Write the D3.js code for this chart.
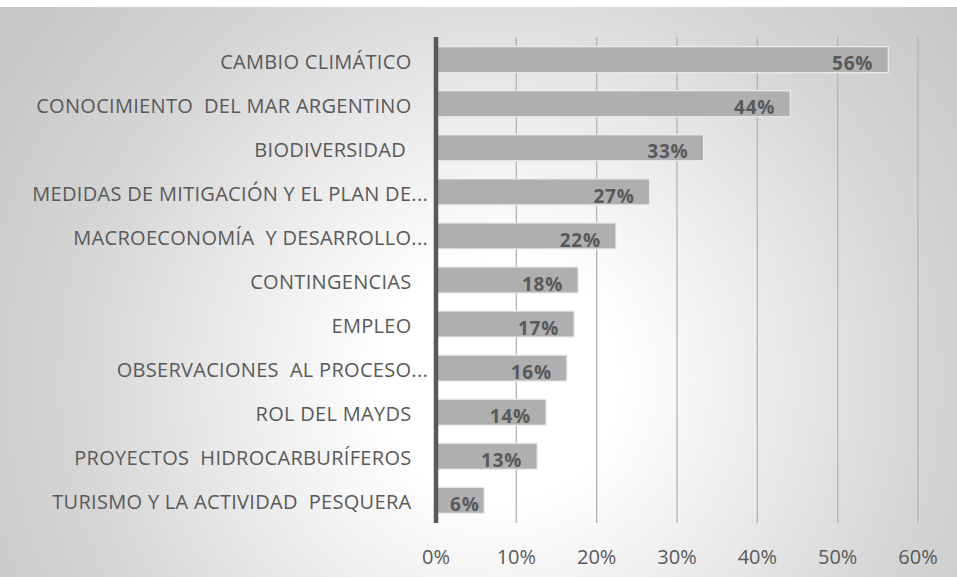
<!DOCTYPE html>
<html>
<head>
<meta charset="utf-8">
<script src="https://cdn.jsdelivr.net/npm/d3@7"></script>
<style>
  html, body { margin: 0; padding: 0; background: #ffffff; }
  svg { display: block; }
  text { white-space: pre; }
</style>
</head>
<body>
<div id="chart"></div>
<script>
// categories, top to bottom (trailing / double spaces are part of the original labels)
const categories = [
  'CAMBIO CLIMÁTICO   ',
  'CONOCIMIENTO  DEL MAR ARGENTINO   ',
  'BIODIVERSIDAD    ',
  'MEDIDAS DE MITIGACIÓN Y EL PLAN DE...',
  'MACROECONOMÍA  Y DESARROLLO...',
  'CONTINGENCIAS   ',
  'EMPLEO   ',
  'OBSERVACIONES  AL PROCESO...',
  'ROL DEL MAYDS   ',
  'PROYECTOS  HIDROCARBURÍFEROS   ',
  'TURISMO Y LA ACTIVIDAD  PESQUERA   '
];
// share of mentions (%)
const values = [56.3, 44.1, 33.3, 26.6, 22.4, 17.7, 17.2, 16.3, 13.7, 12.6, 6.0];
const xTicks = [0, 10, 20, 30, 40, 50, 60];

const width = 957;
const height = 577;
const plot = { left: 436, right: 918, top: 37, bottom: 523 };

const svg = d3.select('#chart')
  .append('svg')
  .attr('width', width)
  .attr('height', height);

// background: radial grey -> white gradient like the Office chart area
const defs = svg.append('defs');
const grad = defs.append('radialGradient')
  .attr('id', 'bg')
  .attr('gradientUnits', 'userSpaceOnUse')
  .attr('cx', 500).attr('cy', 380).attr('r', 600);
[[0, '#ffffff'], [0.2, '#ffffff'], [0.45, '#ebebeb'], [0.7, '#d6d6d6'], [1, '#c6c6c6']]
  .forEach(s => grad.append('stop').attr('offset', s[0]).attr('stop-color', s[1]));

svg.append('rect')
  .attr('x', 0).attr('y', 7)
  .attr('width', width).attr('height', height - 7)
  .attr('fill', 'url(#bg)');

const x = d3.scaleLinear()
  .domain([0, 60])
  .range([plot.left, plot.right]);

const y = d3.scaleBand()
  .domain(categories)
  .range([plot.top, plot.bottom])
  .paddingInner(0.41)
  .paddingOuter(0.22);

// vertical gridlines
svg.append('g')
  .selectAll('line')
  .data(xTicks.slice(1))
  .enter()
  .append('line')
  .attr('x1', d => x(d)).attr('x2', d => x(d))
  .attr('y1', plot.top).attr('y2', plot.bottom)
  .attr('stroke', '#b3b3b3')
  .attr('stroke-width', 1.3);

// x tick labels
svg.append('g')
  .selectAll('text')
  .data(xTicks)
  .enter()
  .append('text')
  .attr('x', d => x(d))
  .attr('y', 557)
  .attr('dy', '0.35em')
  .attr('text-anchor', 'middle')
  .attr('font-family', 'Open Sans')
  .attr('font-size', 20)
  .attr('fill', '#595959')
  .text(d => d + '%');

// bars
svg.append('g')
  .selectAll('rect')
  .data(values)
  .enter()
  .append('rect')
  .attr('x', x(0))
  .attr('y', (d, i) => y(categories[i]))
  .attr('width', d => x(d) - x(0))
  .attr('height', y.bandwidth())
  .attr('fill', '#afafaf')
  .attr('stroke', '#ececec')
  .attr('stroke-width', 1.2);

// category labels
svg.append('g')
  .selectAll('text')
  .data(categories)
  .enter()
  .append('text')
  .attr('x', plot.left - 8)
  .attr('y', d => y(d) + y.bandwidth() / 2 + 2)
  .attr('dy', '0.35em')
  .attr('text-anchor', 'end')
  .attr('font-family', 'Open Sans')
  .attr('font-size', 20)
  .attr('letter-spacing', 0.3)
  .attr('fill', '#595959')
  .text(d => d);

// data labels, inside end, kept inside the bar
const labels = svg.append('g')
  .selectAll('text')
  .data(values)
  .enter()
  .append('text')
  .attr('y', (d, i) => y(categories[i]) + y.bandwidth() / 2 + 4)
  .attr('dy', '0.35em')
  .attr('text-anchor', 'end')
  .attr('font-family', 'Open Sans')
  .attr('font-weight', 'bold')
  .attr('font-size', 19)
  .attr('letter-spacing', 0.8)
  .attr('fill', '#595959')
  .text(d => Math.round(d) + '%');
labels.attr('x', function(d) {
  const w = this.getComputedTextLength();
  return Math.max(x(d) - 15, x(0) + w + 14);
});

// category axis line
svg.append('line')
  .attr('x1', x(0)).attr('x2', x(0))
  .attr('y1', plot.top).attr('y2', plot.bottom)
  .attr('stroke', '#595959')
  .attr('stroke-width', 4.5);
</script>
</body>
</html>
